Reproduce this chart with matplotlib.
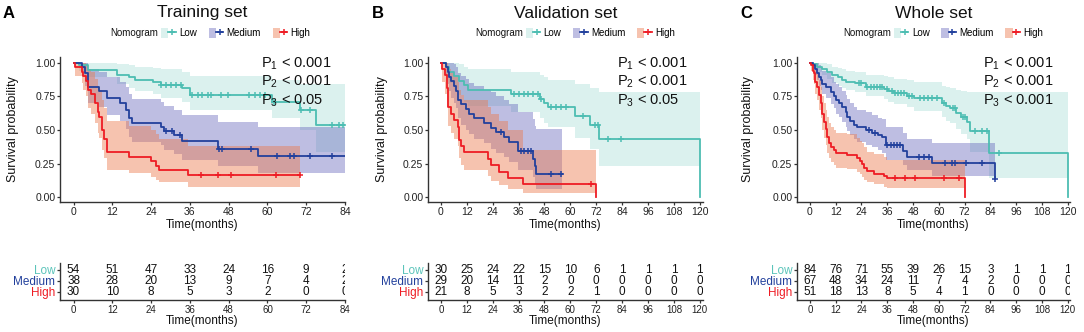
import numpy as np
import matplotlib
matplotlib.use("Agg")
import matplotlib.pyplot as plt
from matplotlib.patches import Patch
from matplotlib.lines import Line2D
from matplotlib.legend_handler import HandlerTuple

plt.rcParams['font.family'] = ['Liberation Sans', 'DejaVu Sans']
plt.rcParams['mathtext.fontset'] = 'custom'
plt.rcParams['mathtext.rm'] = 'Liberation Sans'
plt.rcParams['mathtext.it'] = 'Liberation Sans'

# ---- Training set (A) ----
a_low_t = [0, 1.6, 4.5, 13.5, 17, 19, 24.5, 27, 33.7, 36, 61.5, 70, 75]
a_low_s = [1, 0.98, 0.945, 0.91, 0.89, 0.87, 0.855, 0.835, 0.81, 0.76, 0.71, 0.645, 0.535]
a_low_hi = [1, 1, 1, 0.99, 0.98, 0.97, 0.96, 0.95, 0.93, 0.90, 0.87, 0.84, 0.84]
a_low_lo = [1, 0.94, 0.89, 0.84, 0.81, 0.79, 0.77, 0.74, 0.71, 0.65, 0.59, 0.50, 0.34]
a_low_cens = [27, 28.5, 30.1, 31.6, 33.2, 36.8, 38.4, 39.9, 41.5, 42.5, 45.5, 47.7,
              54.4, 56, 57.6, 59.1, 62, 70.5, 73.1, 79.9, 82, 83.5]
a_low_end = 84

a_med_t = [0, 2.5, 3.5, 4.5, 7.8, 10.4, 14.5, 16.1, 17.1, 18.2, 27, 28, 31, 33.7, 44.6, 57]
a_med_s = [1, 0.97, 0.92, 0.82, 0.79, 0.74, 0.70, 0.65, 0.59, 0.55, 0.525, 0.49, 0.46, 0.415, 0.36, 0.31]
a_med_hi = [1, 1, 1, 0.95, 0.93, 0.89, 0.86, 0.82, 0.77, 0.73, 0.71, 0.68, 0.65, 0.61, 0.56, 0.52]
a_med_lo = [1, 0.90, 0.83, 0.70, 0.67, 0.61, 0.57, 0.51, 0.45, 0.41, 0.39, 0.35, 0.32, 0.28, 0.23, 0.18]
a_med_cens = [28.5, 30.5, 33, 45, 46, 55, 62.9, 67, 68.1, 73.3, 80]
a_med_end = 84

a_high_t = [0, 0.5, 2.5, 3, 3.7, 4.5, 5.5, 6.5, 7.5, 8, 8.8, 9.5, 10.2, 17, 24, 25.5, 26.5, 35.3]
a_high_s = [1, 0.967, 0.933, 0.9, 0.867, 0.8, 0.767, 0.70, 0.633, 0.6, 0.5, 0.433, 0.333,
            0.30, 0.267, 0.233, 0.20, 0.167]
a_high_hi = [1, 1, 1, 1, 0.99, 0.95, 0.93, 0.88, 0.83, 0.80, 0.72, 0.66, 0.57, 0.53, 0.50, 0.47, 0.43, 0.38]
a_high_lo = [1, 0.90, 0.85, 0.80, 0.75, 0.66, 0.62, 0.55, 0.48, 0.44, 0.35, 0.29, 0.20, 0.18, 0.15, 0.13, 0.11, 0.08]
a_high_cens = [39.4, 44.8, 48.8, 62.8, 70]
a_high_end = 70

# ---- Validation set (B) ----
b_low_t = [0, 2.3, 3.9, 6.2, 8.5, 10.8, 12.4, 32.5, 45.7, 48, 49.5, 62, 69, 73.5, 120]
b_low_s = [1, 0.967, 0.933, 0.9, 0.867, 0.833, 0.80, 0.767, 0.73, 0.70, 0.673, 0.605, 0.538, 0.43, 0.0]
b_low_hi = [1, 1, 1, 1, 0.99, 0.97, 0.95, 0.93, 0.91, 0.89, 0.87, 0.84, 0.81, 0.785, 0.785]
b_low_lo = [1, 0.90, 0.85, 0.80, 0.76, 0.71, 0.68, 0.63, 0.59, 0.55, 0.52, 0.44, 0.36, 0.235, 0.235]
b_low_cens = [34.1, 36.4, 38.7, 40.3, 42.6, 44.9, 46.5, 51.1, 53.4, 55.7, 58.1, 65.8,
              71.2, 72.8, 77.4, 83.6]
b_low_end = 120

b_med_t = [0, 2.3, 3.1, 3.9, 4.6, 6.2, 7, 7.7, 9.3, 11.6, 13.2, 15.5, 20.1, 23.2, 25.5,
           29.4, 31.7, 35.6, 42.6, 43.4, 44.2]
b_med_s = [1, 0.966, 0.931, 0.897, 0.862, 0.828, 0.793, 0.724, 0.69, 0.655, 0.62, 0.586,
           0.552, 0.517, 0.483, 0.448, 0.41, 0.345, 0.287, 0.23, 0.172]
b_med_hi = [1, 1, 1, 1, 1, 0.99, 0.97, 0.92, 0.90, 0.88, 0.85, 0.83, 0.80, 0.78, 0.75,
            0.72, 0.69, 0.63, 0.58, 0.53, 0.51]
b_med_lo = [1, 0.90, 0.84, 0.79, 0.74, 0.70, 0.66, 0.59, 0.54, 0.50, 0.47, 0.43, 0.40,
            0.36, 0.33, 0.30, 0.26, 0.20, 0.15, 0.10, 0.065]
b_med_cens = [27.9, 37.2, 38.7, 40.3, 41.8, 51.1, 55.7]
b_med_end = 56

b_high_t = [0, 0.3, 2, 2.6, 3.1, 4.6, 6.2, 7.7, 8.5, 9.3, 10.8, 21.7, 23.2, 27.1, 31, 37.9, 72]
b_high_s = [1, 0.952, 0.905, 0.81, 0.667, 0.619, 0.571, 0.524, 0.429, 0.381, 0.333, 0.286,
            0.238, 0.19, 0.143, 0.095, 0.0]
b_high_hi = [1, 1, 1, 1, 0.95, 0.92, 0.89, 0.86, 0.80, 0.76, 0.72, 0.67, 0.62, 0.57, 0.50, 0.35, 0.35]
b_high_lo = [1, 0.86, 0.77, 0.67, 0.53, 0.48, 0.43, 0.38, 0.29, 0.24, 0.20, 0.16, 0.12, 0.09,
             0.06, 0.035, 0.035]
b_high_cens = [69.7]
b_high_end = 72

# ---- Whole set (C) ----
c_low_t = [0, 1.5, 3.5, 5.5, 8, 10.5, 13, 15, 17, 21, 26, 34.5, 36.5, 39, 45, 48.5, 61.5,
           63.5, 65.3, 68, 70.5, 73, 74.5, 83.5, 120]
c_low_s = [1, 0.988, 0.965, 0.952, 0.93, 0.905, 0.89, 0.87, 0.86, 0.846, 0.82, 0.805, 0.79,
           0.775, 0.755, 0.735, 0.70, 0.68, 0.66, 0.625, 0.60, 0.56, 0.49, 0.33, 0.0]
c_low_hi = [1, 1, 1, 1, 0.99, 0.97, 0.96, 0.95, 0.94, 0.93, 0.91, 0.90, 0.89, 0.88, 0.87,
            0.86, 0.83, 0.82, 0.81, 0.80, 0.79, 0.78, 0.785, 0.785, 0.785]
c_low_lo = [1, 0.96, 0.93, 0.91, 0.88, 0.85, 0.83, 0.81, 0.80, 0.78, 0.75, 0.73, 0.71, 0.69,
            0.67, 0.64, 0.60, 0.57, 0.55, 0.51, 0.47, 0.43, 0.34, 0.14, 0.14]
c_low_cens = [22.8, 24, 26.6, 28.2, 29.7, 31.3, 32.5, 33.5, 36, 38.2, 39.5, 41, 42.5, 44,
              46, 47.5, 51.4, 53, 55, 57, 59, 62.5, 66.5, 67.5, 71, 72, 77, 80, 82.4, 87.8]
c_low_end = 120

c_med_t = [0, 1.5, 2.6, 3.4, 4.2, 5, 5.7, 7.5, 9.6, 11.1, 12, 13.5, 15, 16.6, 17.3, 18.8,
           20.4, 22, 26, 28.7, 31.8, 33.5, 35.2, 43.5, 45, 56.8, 86.3]
c_med_s = [1, 0.985, 0.955, 0.925, 0.895, 0.87, 0.84, 0.82, 0.78, 0.75, 0.72, 0.70, 0.67,
           0.63, 0.60, 0.57, 0.54, 0.52, 0.50, 0.48, 0.46, 0.445, 0.39, 0.345, 0.30, 0.255, 0.135]
c_med_hi = [1, 1, 1, 1, 0.98, 0.96, 0.94, 0.92, 0.89, 0.86, 0.84, 0.82, 0.79, 0.76, 0.73,
            0.70, 0.67, 0.65, 0.63, 0.61, 0.59, 0.58, 0.52, 0.48, 0.43, 0.40, 0.40]
c_med_lo = [1, 0.96, 0.91, 0.87, 0.83, 0.80, 0.77, 0.74, 0.69, 0.66, 0.62, 0.60, 0.56, 0.52,
            0.49, 0.46, 0.43, 0.41, 0.39, 0.37, 0.35, 0.33, 0.28, 0.24, 0.20, 0.16, 0.16]
c_med_cens = [27.4, 30.5, 35.8, 37.5, 39, 40.5, 42, 50.6, 53, 55.4, 63, 66, 67.7, 72.4, 80.1, 86.3]
c_med_end = 86.3

c_high_t = [0, 0.6, 1.5, 2, 2.6, 3.4, 4.2, 5, 5.7, 6.5, 7.3, 8.1, 8.8, 9.6, 11.1, 12, 17.3,
            22, 23.5, 24.3, 25, 26.5, 29.7, 34.4, 35.9, 72.3]
c_high_s = [1, 0.98, 0.94, 0.92, 0.86, 0.82, 0.76, 0.70, 0.62, 0.56, 0.51, 0.45, 0.40, 0.37,
            0.35, 0.33, 0.315, 0.29, 0.27, 0.245, 0.22, 0.195, 0.175, 0.155, 0.14, 0.0]
c_high_hi = [1, 1, 1, 0.99, 0.95, 0.92, 0.87, 0.82, 0.75, 0.70, 0.65, 0.60, 0.55, 0.52, 0.50,
             0.48, 0.47, 0.44, 0.42, 0.40, 0.37, 0.34, 0.32, 0.30, 0.28, 0.28]
c_high_lo = [1, 0.94, 0.87, 0.84, 0.77, 0.72, 0.65, 0.59, 0.50, 0.44, 0.39, 0.33, 0.29, 0.26,
             0.24, 0.22, 0.21, 0.19, 0.17, 0.15, 0.13, 0.11, 0.10, 0.08, 0.07, 0.07]
c_high_cens = [39.8, 44.4, 49.1, 62.2, 69.2]
c_high_end = 72.3

# ---- numbers at risk ----
groups = ['Low', 'Medium', 'High']
a_risk_times = [0, 12, 24, 36, 48, 60, 72, 84]
a_risk_low = [54, 51, 47, 33, 24, 16, 9, 2]
a_risk_med = [38, 28, 20, 13, 9, 7, 4, 2]
a_risk_high = [30, 10, 8, 5, 3, 2, 0, 0]
bc_risk_times = [0, 12, 24, 36, 48, 60, 72, 84, 96, 108, 120]
b_risk_low = [30, 25, 24, 22, 15, 10, 6, 1, 1, 1, 1]
b_risk_med = [29, 20, 14, 11, 2, 0, 0, 0, 0, 0, 0]
b_risk_high = [21, 8, 5, 3, 2, 2, 1, 0, 0, 0, 0]
c_risk_low = [84, 76, 71, 55, 39, 26, 15, 3, 1, 1, 1]
c_risk_med = [67, 48, 34, 24, 11, 7, 4, 2, 0, 0, 0]
c_risk_high = [51, 18, 13, 8, 5, 4, 1, 0, 0, 0, 0]

titles = ['Training set', 'Validation set', 'Whole set']
letters = ['A', 'B', 'C']
p_texts = [['< 0.001', '< 0.001', '< 0.05'],
           ['< 0.001', '< 0.001', '< 0.05'],
           ['< 0.001', '< 0.001', '< 0.001']]

line_cols = ['#4DBDB2', '#22409C', '#EE1C24']
fill_cols = ['#7FCDC4', '#5555B5', '#EC7A4E']
fill_alpha = [0.28, 0.38, 0.45]
label_cols = ['#5BC4BA', '#22409C', '#EE1C24']


def draw_group(ax, t, s, lo, hi, cens, end, k):
    tt = list(t) + [end]
    ss = list(s) + [s[-1]]
    ax.fill_between(tt, list(lo) + [lo[-1]], list(hi) + [hi[-1]], step='post',
                    color=fill_cols[k], alpha=fill_alpha[k], lw=0)
    ax.step(tt, ss, where='post', color=line_cols[k], lw=1.3)
    idx = np.searchsorted(t, cens, side='right') - 1
    ax.plot(cens, np.array(s)[idx], ls='none', marker='+', color=line_cols[k],
            ms=5, mew=1.1)


def style(ax):
    for sp in ['top', 'right']:
        ax.spines[sp].set_visible(False)
    for sp in ['left', 'bottom']:
        ax.spines[sp].set_color('#333333')
        ax.spines[sp].set_linewidth(1.0)
    ax.tick_params(length=2.2, width=0.9, color='#333333', pad=1.2, labelsize=7.5,
                   labelcolor='#222222')


fig = plt.figure(figsize=(10.84, 3.32), dpi=100)

panels = [
    dict(xmax=84, xr=84, grp=[(a_low_t, a_low_s, a_low_lo, a_low_hi, a_low_cens, a_low_end),
                              (a_med_t, a_med_s, a_med_lo, a_med_hi, a_med_cens, a_med_end),
                              (a_high_t, a_high_s, a_high_lo, a_high_hi, a_high_cens, a_high_end)],
         rt=a_risk_times, risk=[a_risk_low, a_risk_med, a_risk_high],
         left=60, right=345, px=58, ylab=19, letter_x=3),
    dict(xmax=120, xr=121.5, grp=[(b_low_t, b_low_s, b_low_lo, b_low_hi, b_low_cens, b_low_end),
                                  (b_med_t, b_med_s, b_med_lo, b_med_hi, b_med_cens, b_med_end),
                                  (b_high_t, b_high_s, b_high_lo, b_high_hi, b_high_cens, b_high_end)],
         rt=bc_risk_times, risk=[b_risk_low, b_risk_med, b_risk_high],
         left=428, right=703, px=81.5, ylab=388, letter_x=372),
    dict(xmax=120, xr=121, grp=[(c_low_t, c_low_s, c_low_lo, c_low_hi, c_low_cens, c_low_end),
                                (c_med_t, c_med_s, c_med_lo, c_med_hi, c_med_cens, c_med_end),
                                (c_high_t, c_high_s, c_high_lo, c_high_hi, c_high_cens, c_high_end)],
         rt=bc_risk_times, risk=[c_risk_low, c_risk_med, c_risk_high],
         left=797, right=1070, px=80.5, ylab=754, letter_x=740),
]

W, H = 1084.0, 332.0
top_px, bot_px = 57, 202
tab_top, tab_bot = 262.5, 300

for i, p in enumerate(panels):
    wpx = p['right'] - p['left']
    ax = fig.add_axes([p['left'] / W, 1 - bot_px / H, wpx / W, (bot_px - top_px) / H])
    hpx = bot_px - top_px
    xmin = -0.05 * p['xmax']
    for k, g in enumerate(p['grp']):
        draw_group(ax, *g, k)
    ax.set_xlim(xmin, p['xr'])
    ax.set_ylim(-0.035, 1.042)
    ax.set_xticks(p['rt'])
    ax.set_yticks([0, 0.25, 0.5, 0.75, 1.0])
    ax.set_yticklabels(['0.00', '0.25', '0.50', '0.75', '1.00'])
    style(ax)
    ax.set_xlabel('Time(months)', fontsize=8.5, color='#111111')
    ax.xaxis.set_label_coords(0.5, -(219 - bot_px) / hpx)
    ax.set_ylabel('Survival probability', fontsize=9, color='#111111')
    ax.yaxis.set_label_coords(-(p['left'] - p['ylab']) / wpx, 0.5)

    # p-values
    for j, yy in enumerate([0.99, 0.855, 0.715]):
        ax.text(p['px'], yy, r'$\mathrm{P}_{%d}$ %s' % (j + 1, p_texts[i][j]),
                fontsize=10.5, va='center', ha='left', color='#111111')

    # title, letter, legend
    ax.text(0.5, (bot_px - 13) / hpx, titles[i], transform=ax.transAxes,
            ha='center', va='center', fontsize=12.5, color='#111111')
    fig.text(p['letter_x'] / W, 1 - 14 / H, letters[i], fontsize=12, fontweight='bold',
             ha='left', va='center')
    ly = (bot_px - 33) / hpx
    ax.text(0.345, ly, 'Nomogram', transform=ax.transAxes, ha='right', va='center',
            fontsize=7, color='#111111')
    handles = []
    for k in range(3):
        patch = Patch(facecolor=fill_cols[k], alpha=fill_alpha[k], edgecolor='none')
        ln = Line2D([], [], color=line_cols[k], lw=1.3, marker='+', ms=5, mew=1.1)
        handles.append((patch, ln))
    ax.legend(handles, groups, handler_map={tuple: HandlerTuple(ndivide=None)},
              ncol=3, loc='center left', bbox_to_anchor=(0.355, ly), frameon=False,
              fontsize=7, handlelength=1.5, handleheight=1.3, handletextpad=0.35,
              columnspacing=1.2, borderpad=0, borderaxespad=0)

    # risk table
    tab = fig.add_axes([p['left'] / W, 1 - tab_bot / H, wpx / W, (tab_bot - tab_top) / H])
    tab.set_xlim(xmin, p['xr'])
    tab.set_ylim(0.23, 3.69)
    for k in range(3):
        row = 3 - k
        for tm, n in zip(p['rt'], p['risk'][k]):
            tab.text(tm, row, str(n), ha='center', va='center', fontsize=8.5,
                     color='#111111', clip_on=True)
    tab.set_xticks(p['rt'])
    tab.set_yticks([3, 2, 1])
    tab.set_yticklabels(groups)
    style(tab)
    tab.tick_params(axis='y', labelsize=8.5)
    tab.tick_params(axis='x', labelsize=7)
    for lab, c in zip(tab.get_yticklabels(), label_cols):
        lab.set_color(c)
    tab.set_xlabel('Time(months)', fontsize=8.5, color='#111111')
    tab.xaxis.set_label_coords(0.5, -(315 - tab_bot) / (tab_bot - tab_top))

fig.savefig('out.png', dpi=100)
